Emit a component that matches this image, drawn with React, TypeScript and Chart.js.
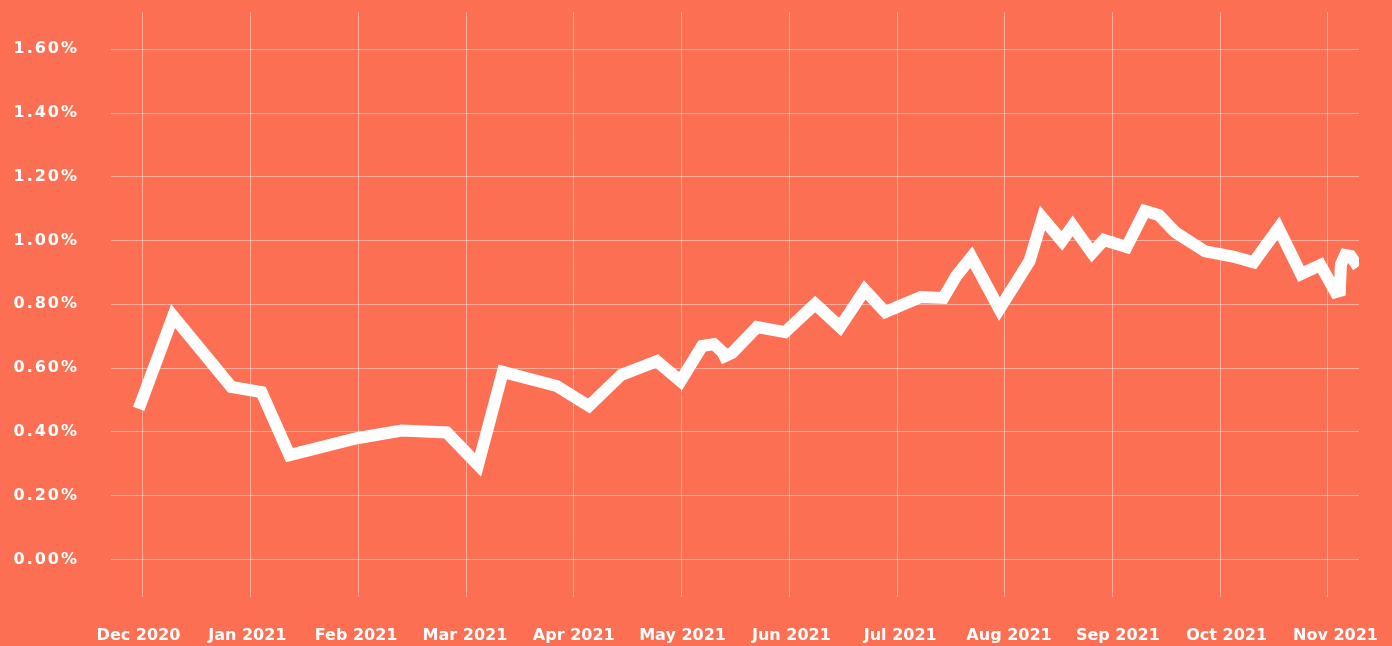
import React, { useEffect, useRef } from "react";
import { Chart, registerables } from "chart.js";

Chart.register(...registerables);

// Month axis labels (one per month gridline)
const monthLabels = [
  "Dec 2020", "Jan 2021", "Feb 2021", "Mar 2021", "Apr 2021", "May 2021",
  "Jun 2021", "Jul 2021", "Aug 2021", "Sep 2021", "Oct 2021", "Nov 2021",
];

// Y ticks (percent) and their labels
const yTickValues = [0, 0.2, 0.4, 0.6, 0.8, 1.0, 1.2, 1.4, 1.6];
const yTickLabels = ["0.00%", "0.20%", "0.40%", "0.60%", "0.80%", "1.00%", "1.20%", "1.40%", "1.60%"];

// Series: position in months since Dec 2020, value in percent
const seriesMonths = [
  -0.04, 0.28, 0.82, 1.10, 1.36, 1.985, 2.40, 2.82, 3.11, 3.34,
  3.84, 4.14, 4.44, 4.77, 4.99, 5.19, 5.30, 5.38, 5.40, 5.47,
  5.70, 5.96, 6.24, 6.47, 6.70, 6.89, 7.22, 7.43, 7.55, 7.69,
  7.95, 8.23, 8.35, 8.53, 8.63, 8.81, 8.92, 9.13, 9.30, 9.43,
  9.58, 9.86, 10.12, 10.31, 10.54, 10.75, 10.93, 11.07, 11.11, 11.12,
  11.16, 11.21, 11.28,
];
const seriesValues = [
  0.472, 0.763, 0.541, 0.525, 0.327, 0.380, 0.404, 0.398, 0.296, 0.588,
  0.544, 0.481, 0.579, 0.622, 0.559, 0.669, 0.675, 0.650, 0.637, 0.648,
  0.729, 0.713, 0.801, 0.729, 0.845, 0.776, 0.823, 0.820, 0.889, 0.948,
  0.785, 0.936, 1.071, 0.999, 1.046, 0.961, 1.002, 0.980, 1.093, 1.080,
  1.027, 0.966, 0.950, 0.932, 1.039, 0.895, 0.923, 0.838, 0.842, 0.925,
  0.955, 0.952, 0.918,
];

const BG = "rgb(252,111,83)";
const GRID = "rgba(255,255,255,0.42)";
const FONT = "'DejaVu Sans', sans-serif";

function zeroPad(s: any) {
  s.paddingTop = 0;
  s.paddingBottom = 0;
  s.paddingLeft = 0;
  s.paddingRight = 0;
}

export default function App() {
  const ref = useRef<HTMLCanvasElement>(null);

  useEffect(() => {
    if (!ref.current) return;
    const monthTicks = monthLabels.map((_, i) => ({ value: i }));
    const letterSpacingPlugin = {
      id: "ySpacing",
      afterLayout(chart: any) {
        const s: any = chart.scales.y;
        if (s && !s.__patched) {
          const orig = s.drawLabels.bind(s);
          s.drawLabels = (area: any) => {
            const ctx: any = chart.ctx;
            ctx.save();
            ctx.letterSpacing = "2px";
            orig(area);
            ctx.restore();
          };
          s.__patched = true;
        }
      },
    };
    const chart = new Chart(ref.current, {
      type: "line",
      data: {
        datasets: [
          {
            data: seriesMonths.map((m, i) => ({ x: m, y: seriesValues[i] })),
            borderColor: "#ffffff",
            borderWidth: 12,
            borderJoinStyle: "miter",
            borderCapStyle: "butt",
            pointRadius: 0,
            pointHoverRadius: 0,
            fill: false,
            tension: 0,
          },
        ],
      },
      options: {
        animation: false,
        responsive: false,
        events: [],
        layout: { padding: { left: 0, top: 12, right: 33, bottom: 0 } },
        plugins: { legend: { display: false }, tooltip: { enabled: false } },
        scales: {
          x: {
            type: "linear",
            position: "bottom",
            min: -0.2968,
            max: 11.288,
            afterBuildTicks: (s: any) => { s.ticks = monthTicks.map((t) => ({ ...t })); },
            afterFit: (s: any) => { s.height = 0; zeroPad(s); },
            grid: { color: GRID, lineWidth: 1, drawTicks: false },
            border: { display: false },
            ticks: { display: false },
          },
          x2: {
            type: "linear",
            position: "bottom",
            min: -0.2525,
            max: 11.216,
            afterBuildTicks: (s: any) => { s.ticks = monthTicks.map((t) => ({ ...t })); },
            afterFit: (s: any) => { s.height = 49; zeroPad(s); },
            grid: { display: false, drawTicks: false },
            border: { display: false },
            ticks: {
              autoSkip: false,
              maxRotation: 0,
              padding: 29,
              color: "#ffffff",
              font: { family: FONT, size: 16, weight: "bold" },
              callback: (_v: any, i: number) => monthLabels[i],
            },
          },
          y: {
            type: "linear",
            min: -0.118,
            max: 1.717,
            afterBuildTicks: (s: any) => { s.ticks = yTickValues.map((v) => ({ value: v })); },
            afterFit: (s: any) => { s.width = 111; zeroPad(s); },
            grid: { color: GRID, lineWidth: 1, drawTicks: false },
            border: { display: false },
            ticks: {
              padding: 32,
              color: "#ffffff",
              font: { family: FONT, size: 16, weight: "bold" },
              callback: (_v: any, i: number) => yTickLabels[i],
            },
          },
        },
      } as any,
      plugins: [letterSpacingPlugin],
    });
    return () => chart.destroy();
  }, []);

  return (
    <div style={{ position: "fixed", left: 0, top: 0, width: 1392, height: 646, background: BG }}>
      <canvas ref={ref} width={1392} height={646} style={{ display: "block" }} />
    </div>
  );
}
